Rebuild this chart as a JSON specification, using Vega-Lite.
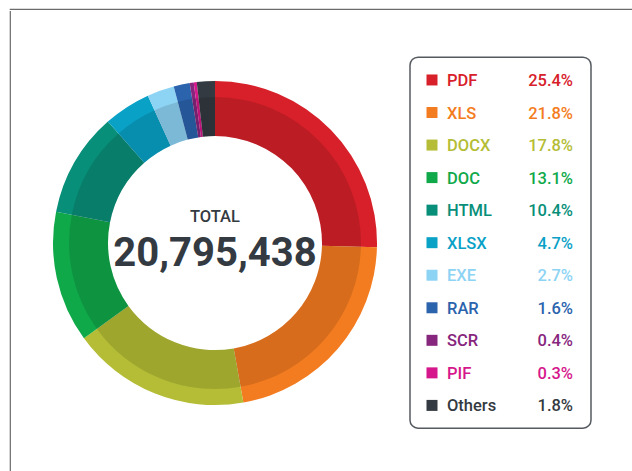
{
  "$schema": "https://vega.github.io/schema/vega-lite/v6.json",
  "padding": {"left": 9, "top": 8, "right": 0, "bottom": 0},
  "background": "white",
  "config": {"view": {"stroke": null}, "font": "Roboto, sans-serif"},
  "datasets": {
    "files": [
      {"idx": 1, "name": "PDF", "pct": 0.254},
      {"idx": 2, "name": "XLS", "pct": 0.218},
      {"idx": 3, "name": "DOCX", "pct": 0.178},
      {"idx": 4, "name": "DOC", "pct": 0.131},
      {"idx": 5, "name": "HTML", "pct": 0.104},
      {"idx": 6, "name": "XLSX", "pct": 0.047},
      {"idx": 7, "name": "EXE", "pct": 0.027},
      {"idx": 8, "name": "RAR", "pct": 0.016},
      {"idx": 9, "name": "SCR", "pct": 0.004},
      {"idx": 10, "name": "PIF", "pct": 0.003},
      {"idx": 11, "name": "Others", "pct": 0.018}
    ]
  },
  "spacing": 0,
  "vconcat": [
    {
      "data": {"values": []},
      "mark": "point",
      "width": 623,
      "height": 0.01,
      "view": {"stroke": "#6b6b6b", "strokeWidth": 1.2}
    },
    {
      "center": true,
      "spacing": 11,
      "hconcat": [
        {
          "data": {"values": []},
          "mark": "point",
          "width": 0.01,
          "height": 463,
          "view": {"stroke": "#6b6b6b", "strokeWidth": 1.2}
        },
        {
          "center": true,
          "spacing": 1,
          "hconcat": [
            {
              "width": 386,
              "height": 370,
              "layer": [
                {
                  "data": {"name": "files"},
                  "mark": {"type": "arc", "innerRadius": 107, "outerRadius": 162},
                  "encoding": {
                    "theta": {"field": "pct", "type": "quantitative", "stack": true},
                    "order": {"field": "idx", "type": "quantitative"},
                    "color": {
                      "field": "name",
                      "type": "nominal",
                      "scale": {
                        "domain": ["PDF", "XLS", "DOCX", "DOC", "HTML", "XLSX", "EXE", "RAR", "SCR", "PIF", "Others"],
                        "range": ["#d7202a", "#f47c20", "#b4bd35", "#10a94a", "#088f79", "#09a1c6", "#8dd3f4", "#2b63ad", "#87267d", "#d6178b", "#343a41"]
                      },
                      "legend": null
                    }
                  }
                },
                {
                  "data": {"name": "files"},
                  "mark": {"type": "arc", "innerRadius": 107, "outerRadius": 146, "color": "#000000", "opacity": 0.12},
                  "encoding": {
                    "theta": {"field": "pct", "type": "quantitative", "stack": true},
                    "order": {"field": "idx", "type": "quantitative"}
                  }
                },
                {
                  "data": {"values": [{"t": "TOTAL"}]},
                  "mark": {"type": "text", "fontSize": 16.5, "fontWeight": 500, "color": "#343a41", "dy": -26, "baseline": "middle"},
                  "encoding": {"text": {"field": "t", "type": "nominal"}}
                },
                {
                  "data": {"values": [{"total": 20795438}]},
                  "mark": {"type": "text", "fontSize": 40, "fontWeight": "bold", "color": "#343a41", "dy": 10.5, "baseline": "middle"},
                  "encoding": {"text": {"field": "total", "type": "quantitative", "format": ","}}
                }
              ]
            },
            {
              "width": 181,
              "height": 371,
              "view": {"stroke": "#555a60", "strokeWidth": 1.5, "cornerRadius": 8},
              "data": {"name": "files"},
              "encoding": {
                "y": {
                  "field": "name",
                  "type": "nominal",
                  "sort": {"field": "idx"},
                  "scale": {"type": "point", "padding": 0.7},
                  "axis": null
                },
                "color": {
                  "field": "name",
                  "type": "nominal",
                  "legend": null
                }
              },
              "layer": [
                {
                  "mark": {"type": "point", "shape": "square", "filled": true, "size": 121, "opacity": 1, "strokeWidth": 0},
                  "encoding": {"x": {"value": 22}}
                },
                {
                  "mark": {"type": "text", "align": "left", "baseline": "middle", "fontSize": 16.5, "fontWeight": 500, "dy": 1},
                  "encoding": {"x": {"value": 37}, "text": {"field": "name", "type": "nominal"}}
                },
                {
                  "mark": {"type": "text", "align": "right", "baseline": "middle", "fontSize": 16.5, "fontWeight": 500, "dy": 1},
                  "encoding": {"x": {"value": 163}, "text": {"field": "pct", "type": "quantitative", "format": ".1%"}}
                }
              ]
            }
          ]
        }
      ]
    }
  ]
}
